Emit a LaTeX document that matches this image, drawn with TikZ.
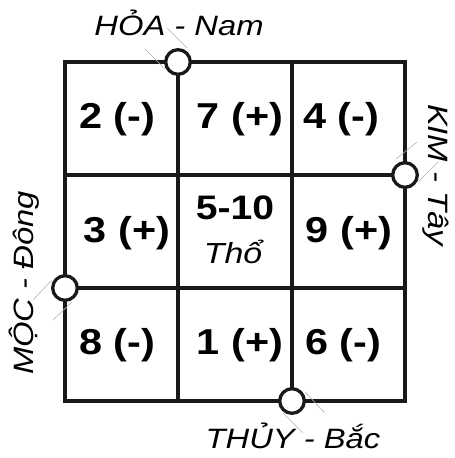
\documentclass[tikz,border=0pt]{standalone}
\usepackage{fontspec}
\setmainfont{Liberation Sans}
\newfontfamily\numfont{Liberation Sans}[FakeStretch=1.15]
\newfontfamily\labfont{Liberation Sans}[FakeStretch=1.17]
\usetikzlibrary{calc}
\begin{document}
\begin{tikzpicture}[x=1pt,y=-1pt,
  gridline/.style={line width=3.3pt,draw=black!90},
  junc/.style={circle,draw=black!90,line width=3.3pt,fill=white,minimum size=24.6pt,inner sep=0pt},
  guide/.style={draw=black!30,line width=0.6pt},
  num/.style={anchor=base,inner sep=0pt,font=\numfont\bfseries\fontsize{36}{40}\selectfont},
  lab/.style={anchor=base,inner sep=0pt,font=\labfont\itshape\fontsize{28}{32}\selectfont}]
\useasboundingbox (0,0) rectangle (455,458);
% grid
\draw[gridline] (65,62) rectangle (405,401);
\draw[gridline] (178,62) -- (178,401);
\draw[gridline] (292,62) -- (292,401);
\draw[gridline] (65,175) -- (405,175);
\draw[gridline] (65,288) -- (405,288);
% junction coordinates
\coordinate (ct) at (178,62);
\coordinate (cr) at (405,175);
\coordinate (cb) at (292,401);
\coordinate (cl) at (65,288);
% faint guide lines
\draw[guide] ($(ct)+(-33,-13)$) -- ($(ct)+(-13,7)$);
\draw[guide] ($(ct)+(-11,-34)$) -- ($(ct)+(9,-14)$);
\draw[guide] ($(cr)+(-9,-16)$) -- ($(cr)+(12,-33)$);
\draw[guide] ($(cr)+(13,7)$) -- ($(cr)+(33,-13)$);
\draw[guide] ($(cb)+(-9,12)$) -- ($(cb)+(11,32)$);
\draw[guide] ($(cb)+(13,-9)$) -- ($(cb)+(33,12)$);
\draw[guide] ($(cl)+(-32,12)$) -- ($(cl)+(-13,-8)$);
\draw[guide] ($(cl)+(-12,32)$) -- ($(cl)+(7,14)$);
% circles
\node[junc] (jt) at (ct) {};
\node[junc] (jr) at (cr) {};
\node[junc] (jb) at (cb) {};
\node[junc] (jl) at (cl) {};
% numbers
\node[num] (n2) at (117,128) {2 (-)};
\node[num] (n7) at (240,128) {7 (+)};
\node[num] (n4) at (341,128) {4 (-)};
\node[num] (n3) at (127,242) {3 (+)};
\node[num,font=\numfont\bfseries\fontsize{34}{38}\selectfont] (n5) at (235,219) {5-10};
\node[anchor=base,inner sep=0pt,font=\labfont\itshape\fontsize{29}{32}\selectfont] (tho) at (233,263) {Thổ};
\node[num] (n9) at (349,242) {9 (+)};
\node[num] (n8) at (117,354) {8 (-)};
\node[num] (n1) at (240,354) {1 (+)};
\node[num] (n6) at (343,354) {6 (-)};
% direction labels
\node[lab] (lt) at (179,35) {HỎA - Nam};
\node[lab] (lb) at (293,448) {THỦY - Bắc};
\node[lab,rotate=-90] (lr) at (428,175) {KIM - Tây};
\node[lab,rotate=90] (ll) at (34,283) {MỘC - Đông};
\end{tikzpicture}
\end{document}
